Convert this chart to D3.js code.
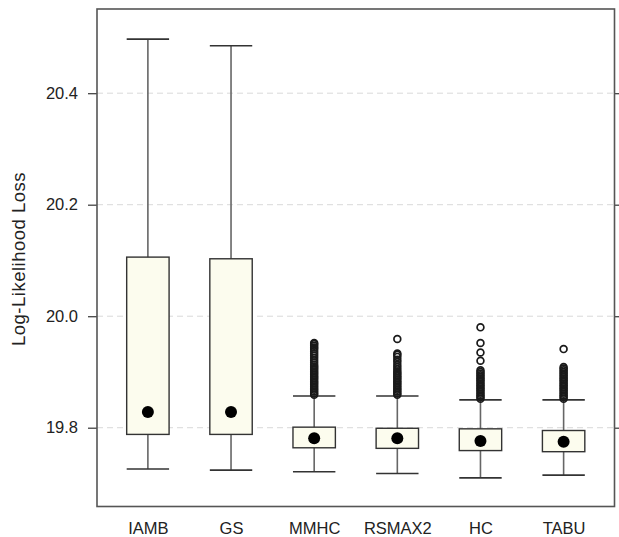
<!DOCTYPE html>
<html>
<head>
<script src="https://cdnjs.cloudflare.com/ajax/libs/d3/7.8.5/d3.min.js"></script>
<style>
  body { margin: 0; background: #fff; }
  text { font-family: "Liberation Sans", Arial, sans-serif; fill: #222; }
</style>
</head>
<body>
<div id="chart"></div>
<script>
// categories and box statistics
var methods = ["IAMB", "GS", "MMHC", "RSMAX2", "HC", "TABU"];
var lowerWhisker = [19.726, 19.724, 19.721, 19.718, 19.710, 19.715];
var q1 = [19.788, 19.788, 19.764, 19.763, 19.759, 19.757];
var median = [19.828, 19.828, 19.781, 19.781, 19.776, 19.775];
var q3 = [20.106, 20.103, 19.801, 19.799, 19.798, 19.795];
var upperWhisker = [20.497, 20.485, 19.857, 19.857, 19.850, 19.850];

var outliersIAMB = [];
var outliersGS = [];
var outliersMMHC = [19.859, 19.862, 19.865, 19.868, 19.871, 19.874, 19.877, 19.880, 19.883, 19.886,
  19.889, 19.892, 19.895, 19.898, 19.901, 19.904, 19.907, 19.910, 19.913, 19.917,
  19.921, 19.925, 19.929, 19.933, 19.937, 19.941, 19.944, 19.947, 19.950, 19.952];
var outliersRSMAX2 = [19.859, 19.862, 19.865, 19.868, 19.871, 19.874, 19.877, 19.880, 19.883, 19.886,
  19.889, 19.892, 19.895, 19.898, 19.901, 19.905, 19.909, 19.913, 19.918, 19.922,
  19.927, 19.931, 19.933, 19.959];
var outliersHC = [19.852, 19.855, 19.858, 19.861, 19.864, 19.867, 19.870, 19.873, 19.876, 19.879,
  19.882, 19.885, 19.888, 19.891, 19.894, 19.897, 19.900, 19.903, 19.920, 19.935,
  19.952, 19.980];
var outliersTABU = [19.852, 19.855, 19.858, 19.861, 19.864, 19.867, 19.870, 19.873, 19.876, 19.879,
  19.882, 19.885, 19.888, 19.891, 19.894, 19.897, 19.900, 19.903, 19.906, 19.909, 19.941];
var outliers = [outliersIAMB, outliersGS, outliersMMHC, outliersRSMAX2, outliersHC, outliersTABU];

var yTicks = [19.8, 20.0, 20.2, 20.4];

var width = 619, height = 537;
var frame = {left: 97, right: 614.5, top: 9, bottom: 506.5};

var svg = d3.select("#chart").append("svg")
    .attr("width", width)
    .attr("height", height);

var x = d3.scalePoint()
    .domain(methods)
    .range([frame.left, frame.right])
    .padding(0.612);

var y = d3.scaleLinear()
    .domain([19.6587, 20.551])
    .range([frame.bottom, frame.top]);

var boxW = x.step() * 0.51;

// grid lines
svg.append("g")
  .selectAll("line")
  .data(yTicks)
  .join("line")
    .attr("x1", frame.left)
    .attr("x2", frame.right)
    .attr("y1", d => y(d))
    .attr("y2", d => y(d))
    .attr("stroke", "#d9d9d9")
    .attr("stroke-width", 1)
    .attr("stroke-dasharray", "6,4");

// left axis
var yAxis = svg.append("g")
    .attr("transform", "translate(" + frame.left + ",0)")
    .call(d3.axisLeft(y).tickValues(yTicks).tickFormat(d3.format(".1f")).tickSize(9).tickPadding(10));
yAxis.select(".domain").remove();
yAxis.selectAll("line").attr("stroke", "#444").attr("stroke-width", 1.3);
yAxis.selectAll("text").attr("font-size", "16.5px").attr("fill", "#222")
    .attr("font-family", "'Liberation Sans', Arial, sans-serif");

// right axis (ticks only)
var yAxisR = svg.append("g")
    .attr("transform", "translate(" + frame.right + ",0)")
    .call(d3.axisRight(y).tickValues(yTicks).tickFormat("").tickSize(7));
yAxisR.select(".domain").remove();
yAxisR.selectAll("line").attr("stroke", "#444").attr("stroke-width", 1.3);

// bottom labels
var xAxis = svg.append("g")
    .attr("transform", "translate(0," + frame.bottom + ")")
    .call(d3.axisBottom(x).tickSize(0).tickPadding(16));
xAxis.select(".domain").remove();
xAxis.selectAll("text").attr("font-size", "16.5px").attr("fill", "#222")
    .attr("font-family", "'Liberation Sans', Arial, sans-serif");

// y title
svg.append("text")
    .attr("transform", "translate(25," + 259 + ") rotate(-90)")
    .attr("text-anchor", "middle")
    .attr("font-size", "18.5px")
    .attr("letter-spacing", "0.5px")
    .text("Log-Likelihood Loss");

// boxes
var boxes = svg.append("g")
  .selectAll("g")
  .data(methods)
  .join("g");

boxes.append("line")
    .attr("x1", d => x(d)).attr("x2", d => x(d))
    .attr("y1", (d, i) => y(upperWhisker[i]))
    .attr("y2", (d, i) => y(lowerWhisker[i]))
    .attr("stroke", "#666")
    .attr("stroke-width", 1.6);

boxes.append("line")
    .attr("x1", d => x(d) - boxW / 2).attr("x2", d => x(d) + boxW / 2)
    .attr("y1", (d, i) => y(upperWhisker[i]))
    .attr("y2", (d, i) => y(upperWhisker[i]))
    .attr("stroke", "#333")
    .attr("stroke-width", 1.6);

boxes.append("line")
    .attr("x1", d => x(d) - boxW / 2).attr("x2", d => x(d) + boxW / 2)
    .attr("y1", (d, i) => y(lowerWhisker[i]))
    .attr("y2", (d, i) => y(lowerWhisker[i]))
    .attr("stroke", "#333")
    .attr("stroke-width", 1.6);

boxes.append("rect")
    .attr("x", d => x(d) - boxW / 2)
    .attr("width", boxW)
    .attr("y", (d, i) => y(q3[i]))
    .attr("height", (d, i) => y(q1[i]) - y(q3[i]))
    .attr("fill", "#fcfcee")
    .attr("stroke", "#333")
    .attr("stroke-width", 1.4);

boxes.selectAll(".outlier")
  .data((d, i) => outliers[i].map(v => ({m: d, v: v})))
  .join("circle")
    .attr("class", "outlier")
    .attr("cx", d => x(d.m))
    .attr("cy", d => y(d.v))
    .attr("r", 3.4)
    .attr("fill", "none")
    .attr("stroke", "#1a1a1a")
    .attr("stroke-width", 1.7);

boxes.append("circle")
    .attr("cx", d => x(d))
    .attr("cy", (d, i) => y(median[i]))
    .attr("r", 6)
    .attr("fill", "#000");

// frame
svg.append("rect")
    .attr("x", frame.left)
    .attr("y", frame.top)
    .attr("width", frame.right - frame.left)
    .attr("height", frame.bottom - frame.top)
    .attr("fill", "none")
    .attr("stroke", "#555")
    .attr("stroke-width", 1.6);
</script>
</body>
</html>
